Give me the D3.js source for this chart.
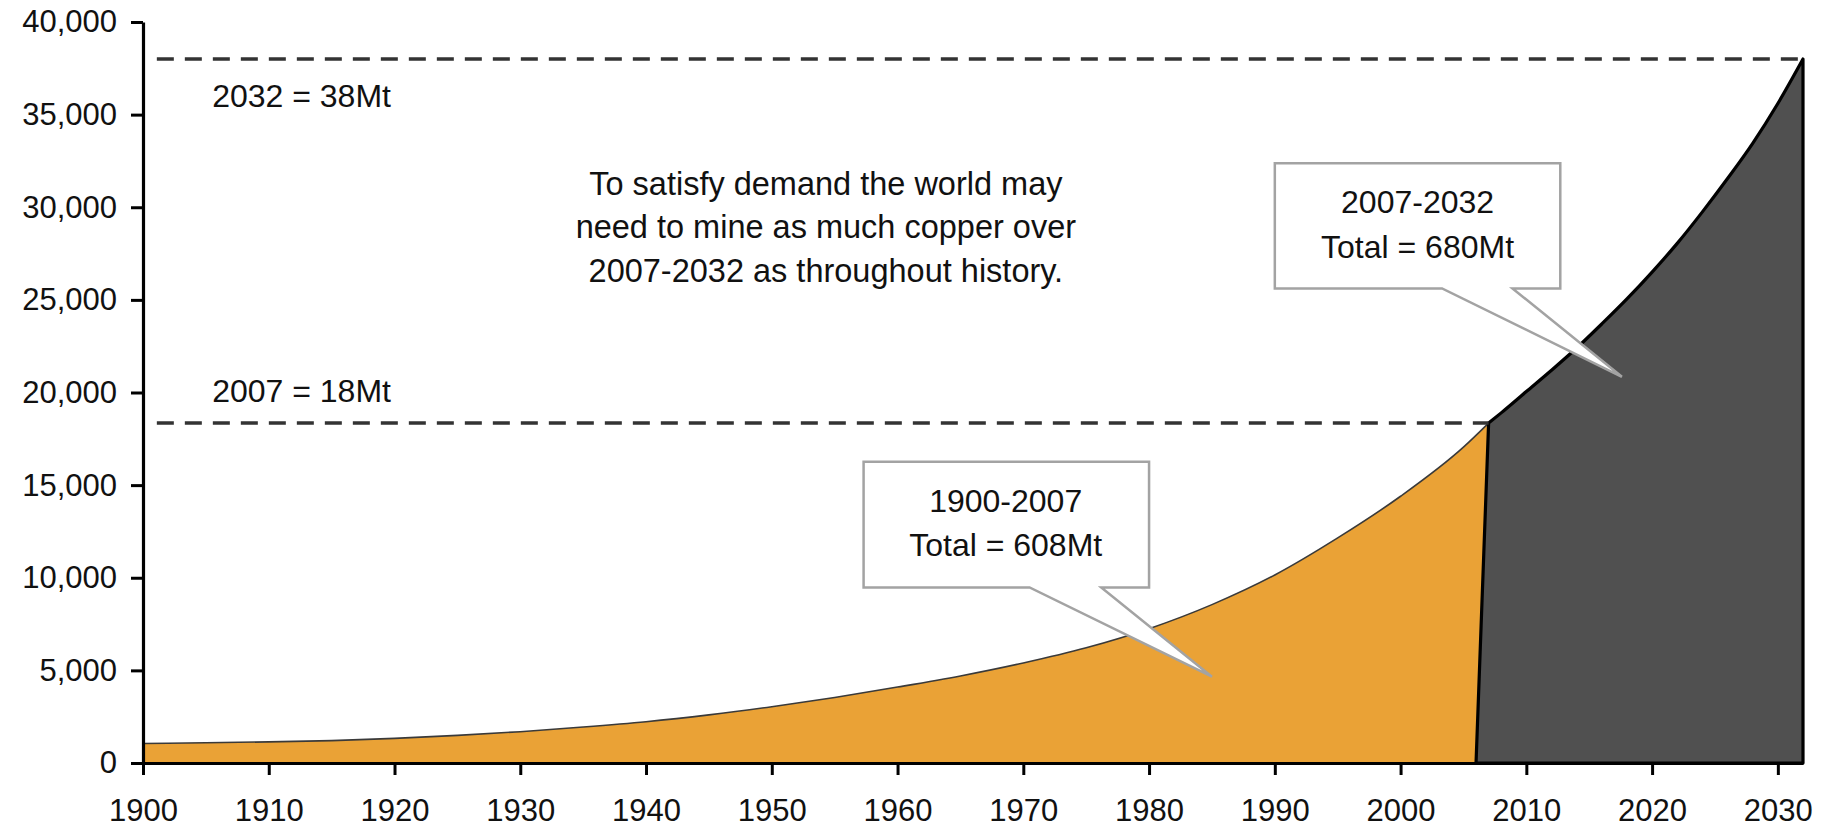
<!DOCTYPE html>
<html>
<head>
<meta charset="utf-8">
<script src="https://cdn.jsdelivr.net/npm/d3@7"></script>
<style>
  html, body { margin: 0; padding: 0; background: #fff; }
  svg { display: block; }
  text { font-family: "Liberation Sans", Arial, sans-serif; fill: #111; }
</style>
</head>
<body>
<svg id="chart" width="1828" height="828"></svg>
<script>
// ---- Data (thousand tonnes of copper mined per year) ----
const histYears  = [1900,1905,1910,1915,1920,1925,1930,1935,1940,1945,1950,1955,1960,1965,1970,1975,1980,1985,1990,1995,2000,2005,2007];
const histValues = [1050,1090,1140,1210,1330,1490,1690,1940,2230,2600,3040,3540,4100,4700,5400,6220,7250,8550,10150,12150,14400,17050,18350];

const projStartYear = 2006; // projection area rises from zero here
const projYears  = [2007,2008,2010,2012,2014,2016,2018,2020,2022,2024,2026,2028,2030,2032];
const projValues = [18350,18900,20050,21200,22400,23700,25050,26500,28050,29750,31550,33450,35600,38000];

const xTicks = [1900,1910,1920,1930,1940,1950,1960,1970,1980,1990,2000,2010,2020,2030];
const yTicks = [0,5000,10000,15000,20000,25000,30000,35000,40000];

const refLevels = [ {year: 2032, value: 38000, label: "2032 = 38Mt"},
                    {year: 2007, value: 18350, label: "2007 = 18Mt"} ];

const noteLines = ["To satisfy demand the world may",
                   "need to mine as much copper over",
                   "2007-2032 as throughout history."];

const callouts = [
  {lines: ["1900-2007", "Total = 608Mt"],
   box: {x0: 1957.3, x1: 1980.0, yTop: 16260, yBot: 9480},
   base: [1970.5, 1976.2], tip: {x: 1985.0, y: 4660},
   textX: 1968.6, textY: [13565, 11174]},
  {lines: ["2007-2032", "Total = 680Mt"],
   box: {x0: 1990.0, x1: 2012.7, yTop: 32370, yBot: 25620},
   base: [2003.3, 2008.9], tip: {x: 2017.6, y: 20850},
   textX: 2001.35, textY: [29674, 27244]}
];

// ---- Scales ----
const svg = d3.select("#chart");
const x = d3.scaleLinear().domain([1900, 2032]).range([143, 1803]);
const y = d3.scaleLinear().domain([0, 40000]).range([763, 22]);

const hist = histYears.map((d, i) => ({year: d, value: histValues[i]}));
const proj = projYears.map((d, i) => ({year: d, value: projValues[i]}));

// ---- Historical (orange) area ----
const area = d3.area().x(d => x(d.year)).y0(y(0)).y1(d => y(d.value)).curve(d3.curveMonotoneX);
const line = d3.line().x(d => x(d.year)).y(d => y(d.value)).curve(d3.curveMonotoneX);

svg.append("path").attr("d", area(hist)).attr("fill", "#EAA236");
svg.append("path").attr("d", line(hist)).attr("fill", "none")
   .attr("stroke", "#3a3a3a").attr("stroke-width", 1.6);

// ---- Projection (dark) area ----
const projLine = line(proj);
const projPath = `M${x(projStartYear)},${y(0)}L` + projLine.slice(1) +
                 `L${x(projYears[projYears.length-1])},${y(0)}Z`;
svg.append("path").attr("d", projPath).attr("fill", "#505050")
   .attr("stroke", "#000").attr("stroke-width", 3.2).attr("stroke-linejoin", "round");

// ---- Dashed reference lines ----
refLevels.forEach(r => {
  svg.append("line")
     .attr("x1", x(1901.1)).attr("x2", x(r.year))
     .attr("y1", y(r.value)).attr("y2", y(r.value))
     .attr("stroke", "#333").attr("stroke-width", 3.5)
     .attr("stroke-dasharray", "17,11");
});
svg.append("text").attr("x", x(1905.5)).attr("y", y(35411)).attr("font-size", 32).text(refLevels[0].label);
svg.append("text").attr("x", x(1905.5)).attr("y", y(19503)).attr("font-size", 32).text(refLevels[1].label);

// ---- Note text ----
const noteY = [30661, 28324, 25981];
noteLines.forEach((t, i) => {
  svg.append("text").attr("x", x(1954.3)).attr("y", y(noteY[i]))
     .attr("text-anchor", "middle").attr("font-size", 32.5).text(t);
});

// ---- Callouts ----
callouts.forEach(c => {
  const bx0 = x(c.box.x0), bx1 = x(c.box.x1), by0 = y(c.box.yTop), by1 = y(c.box.yBot);
  const p = d3.path();
  p.moveTo(bx0, by0);
  p.lineTo(bx1, by0);
  p.lineTo(bx1, by1);
  p.lineTo(x(c.base[1]), by1);
  p.lineTo(x(c.tip.x), y(c.tip.y));
  p.lineTo(x(c.base[0]), by1);
  p.lineTo(bx0, by1);
  p.closePath();
  svg.append("path").attr("d", p.toString()).attr("fill", "#fff")
     .attr("stroke", "#a3a3a3").attr("stroke-width", 2.5).attr("stroke-linejoin", "miter");
  c.lines.forEach((t, i) => {
    svg.append("text").attr("x", x(c.textX)).attr("y", y(c.textY[i]))
       .attr("text-anchor", "middle").attr("font-size", 32).text(t);
  });
});

// ---- Axes ----
const yAxis = d3.axisLeft(y).tickValues(yTicks).tickFormat(d3.format(","))
                .tickSize(12).tickSizeOuter(0).tickPadding(14);
const xAxis = d3.axisBottom(x).tickValues(xTicks).tickFormat(d3.format("d"))
                .tickSize(12).tickSizeOuter(0).tickPadding(24);

const gy = svg.append("g").attr("transform", `translate(${x(1900)},0)`).call(yAxis);
const gx = svg.append("g").attr("transform", `translate(0,${y(0)})`).call(xAxis);

[gx, gy].forEach(g => {
  g.select(".domain").attr("stroke", "#000").attr("stroke-width", 3.2);
  g.selectAll(".tick line").attr("stroke", "#000").attr("stroke-width", 3);
  g.selectAll(".tick text").attr("font-size", 31)
   .attr("font-family", "Liberation Sans, Arial, sans-serif").attr("fill", "#111");
});
</script>
</body>
</html>
